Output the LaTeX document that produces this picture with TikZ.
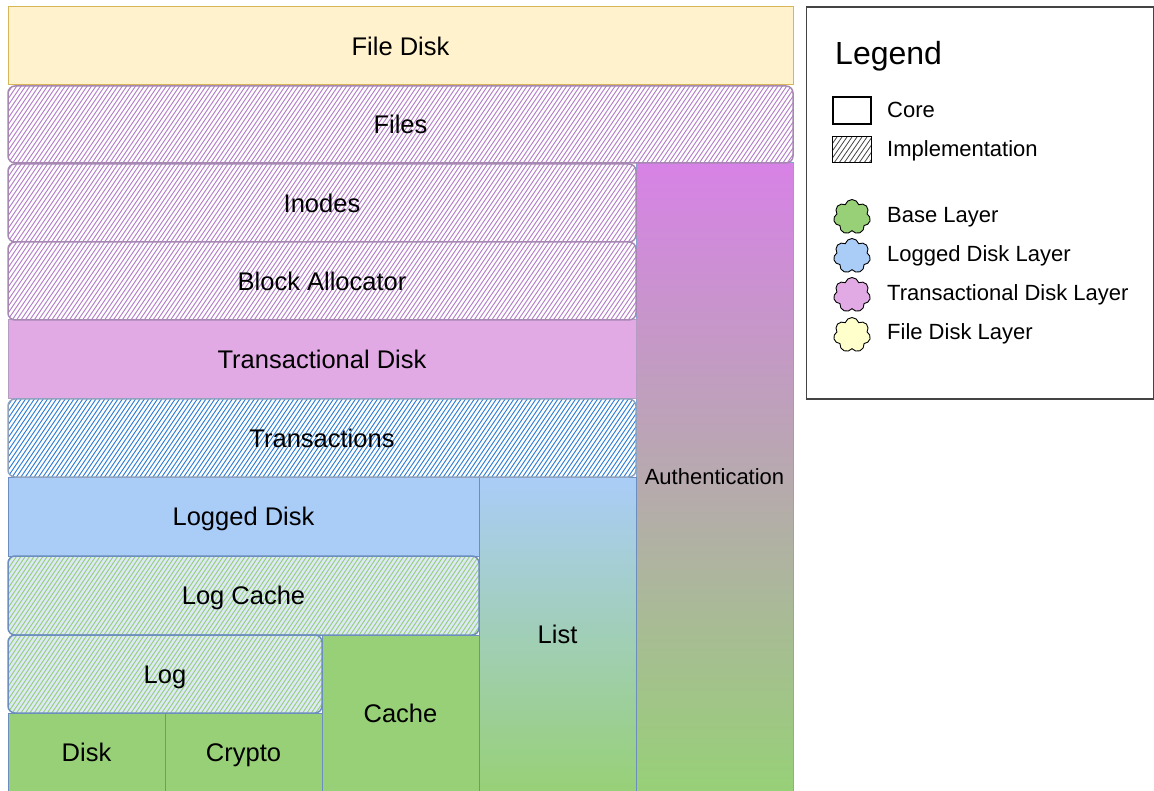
\documentclass[tikz,border=0pt]{standalone}
\usepackage{fontspec}
\setmainfont{Liberation Sans}
\usetikzlibrary{shapes.symbols}
\definecolor{filefill}{HTML}{FFF2CC}
\definecolor{filestroke}{HTML}{D6B656}
\definecolor{purpfill}{HTML}{E2AAE5}
\definecolor{purpstroke}{HTML}{9673A6}
\definecolor{purphatch}{HTML}{B47FCA}
\definecolor{bluefill}{HTML}{AACDF8}
\definecolor{bluestroke}{HTML}{6C8EBF}
\definecolor{bluehatch}{HTML}{2F7ED8}
\definecolor{lightblue}{HTML}{DDE9F8}
\definecolor{basegreen}{HTML}{97D077}
\definecolor{authtop}{HTML}{D782E6}
\definecolor{transstroke}{HTML}{8FA3BF}
\definecolor{legyellow}{HTML}{FFFFCC}
\definecolor{legstroke}{HTML}{444444}
\newcommand\mainlbl{\fontsize{25.5}{30}\selectfont}
\newcommand\smalllbl{\fontsize{22}{26}\selectfont}
\newcommand\titlelbl{\fontsize{32}{38}\selectfont}
% #1 name, #2 x1, #3 y1, #4 x2, #5 y2, #6 fill, #7 hatch colour, #8 stroke, #9 text
\newcommand\hatchbox[9]{%
  \fill[#6,rounded corners=7pt] (#2,#3) rectangle (#4,#5);
  \begin{scope}
    \clip[rounded corners=7pt] (#2,#3) rectangle (#4,#5);
    \pgfmathsetmacro\hdx{0.68*(#5-#3)}
    \pgfmathsetmacro\hstart{#2-\hdx}
    \pgfmathtruncatemacro\hcount{(#4-\hstart)/4.4+1}
    \foreach \i in {0,...,\hcount}{%
      \pgfmathsetmacro\xx{\hstart+4.4*\i}
      \draw[#7,line width=0.95pt] (\xx,#5) -- ({\xx+\hdx},#3);
    }
  \end{scope}
  \node[draw=#8,line width=1.5pt,rounded corners=7pt,inner sep=0pt,
        text height=18.26pt,text depth=0pt,
        minimum width={#4-#2},minimum height={#5-#3},font=\mainlbl]
        (#1) at ({(#2+#4)/2},{(#3+#5)/2}) {#9};
}
\tikzset{
  solidbox/.style={draw=bluestroke,line width=1pt,inner sep=0pt,font=\mainlbl,
                   text height=18.26pt,text depth=0pt},
  legtext/.style={anchor=west,font=\smalllbl,inner sep=0pt,
                  text height=15.75pt,text depth=0pt},
  legcloud/.style={cloud,cloud puffs=7,aspect=1,draw=black,line width=0.9pt,
                   minimum width=37pt,minimum height=35pt,inner sep=0pt}
}
\begin{document}
\begin{tikzpicture}[x=1pt,y=-1pt]
\useasboundingbox (0,0) rectangle (1154,791);
\fill[white] (0,0) rectangle (1154,791);

% solid boxes
\node[solidbox,draw=filestroke,fill=filefill,minimum width=785,minimum height=78]
  (filedisk) at (400.5,46) {File Disk};
\node[solidbox,draw=bluestroke!80,top color=authtop,bottom color=basegreen,
      minimum width=157,minimum height=628,font=\smalllbl,text height=15.75pt]
  (auth) at (714.5,477) {Authentication};
\node[solidbox,draw=purpstroke!70,fill=purpfill,minimum width=628,minimum height=79]
  (tdisk) at (322,359.5) {Transactional Disk};
\node[solidbox,fill=bluefill,minimum width=471,minimum height=79]
  (ldisk) at (243.5,516.5) {Logged Disk};
\node[solidbox,top color=bluefill,bottom color=basegreen,
      minimum width=157,minimum height=314]
  (list) at (557.5,634) {List};
\node[solidbox,fill=basegreen,minimum width=157,minimum height=156]
  (cache) at (400.5,713) {Cache};
\node[solidbox,fill=basegreen,minimum width=157,minimum height=78]
  (disk) at (86.5,752) {Disk};
\node[solidbox,fill=basegreen,minimum width=157,minimum height=78]
  (crypto) at (243.5,752) {Crypto};

% hatched (implementation) boxes
\hatchbox{files}{8}{86}{793}{163}{white}{purphatch}{purpstroke!85}{Files}
\hatchbox{inodes}{8}{164}{636}{242}{white}{purphatch}{purpstroke!85}{Inodes}
\hatchbox{balloc}{8}{242}{636}{320}{white}{purphatch}{purpstroke!85}{Block Allocator}
\hatchbox{trans}{8}{399}{636}{477}{white}{bluehatch}{transstroke}{Transactions}
\hatchbox{logcache}{8}{556}{479}{635}{lightblue}{basegreen}{bluestroke}{Log Cache}
\hatchbox{log}{8}{635}{322}{713}{lightblue}{basegreen}{bluestroke}{Log}

% legend
\node[draw=legstroke,line width=1.3pt,minimum width=347,minimum height=392,inner sep=0pt]
  (legend) at (980,203) {};
\node[legtext,font=\titlelbl,text height=22.9pt] (legtitle) at (835,53) {Legend};
\node[draw=black,line width=2pt,fill=white,minimum width=38,minimum height=27,inner sep=0pt]
  (lcorebox) at (851.5,111) {};
\node[legtext] (lcore) at (887,110) {Core};
\begin{scope}
  \clip (832,137) rectangle (871,163);
  \foreach \i in {0,...,12}{%
    \pgfmathsetmacro\xx{814+5*\i}
    \draw[legstroke,line width=0.8pt] (\xx,163) -- ({\xx+18},137);
  }
\end{scope}
\node[draw=black,line width=1pt,minimum width=39,minimum height=26,inner sep=0pt]
  (limplbox) at (851.5,150) {};
\node[legtext] (limpl) at (887,149) {Implementation};
\node[legcloud,fill=basegreen] (cbase) at (852,217) {};
\node[legtext] (lbase) at (887,215) {Base Layer};
\node[legcloud,fill=bluefill] (clogged) at (852,256) {};
\node[legtext] (llogged) at (887,254) {Logged Disk Layer};
\node[legcloud,fill=purpfill] (ctrans) at (852,295) {};
\node[legtext] (ltrans) at (887,293) {Transactional Disk Layer};
\node[legcloud,fill=legyellow] (cfile) at (852,335) {};
\node[legtext] (lfile) at (887,332) {File Disk Layer};
\end{tikzpicture}
\end{document}
